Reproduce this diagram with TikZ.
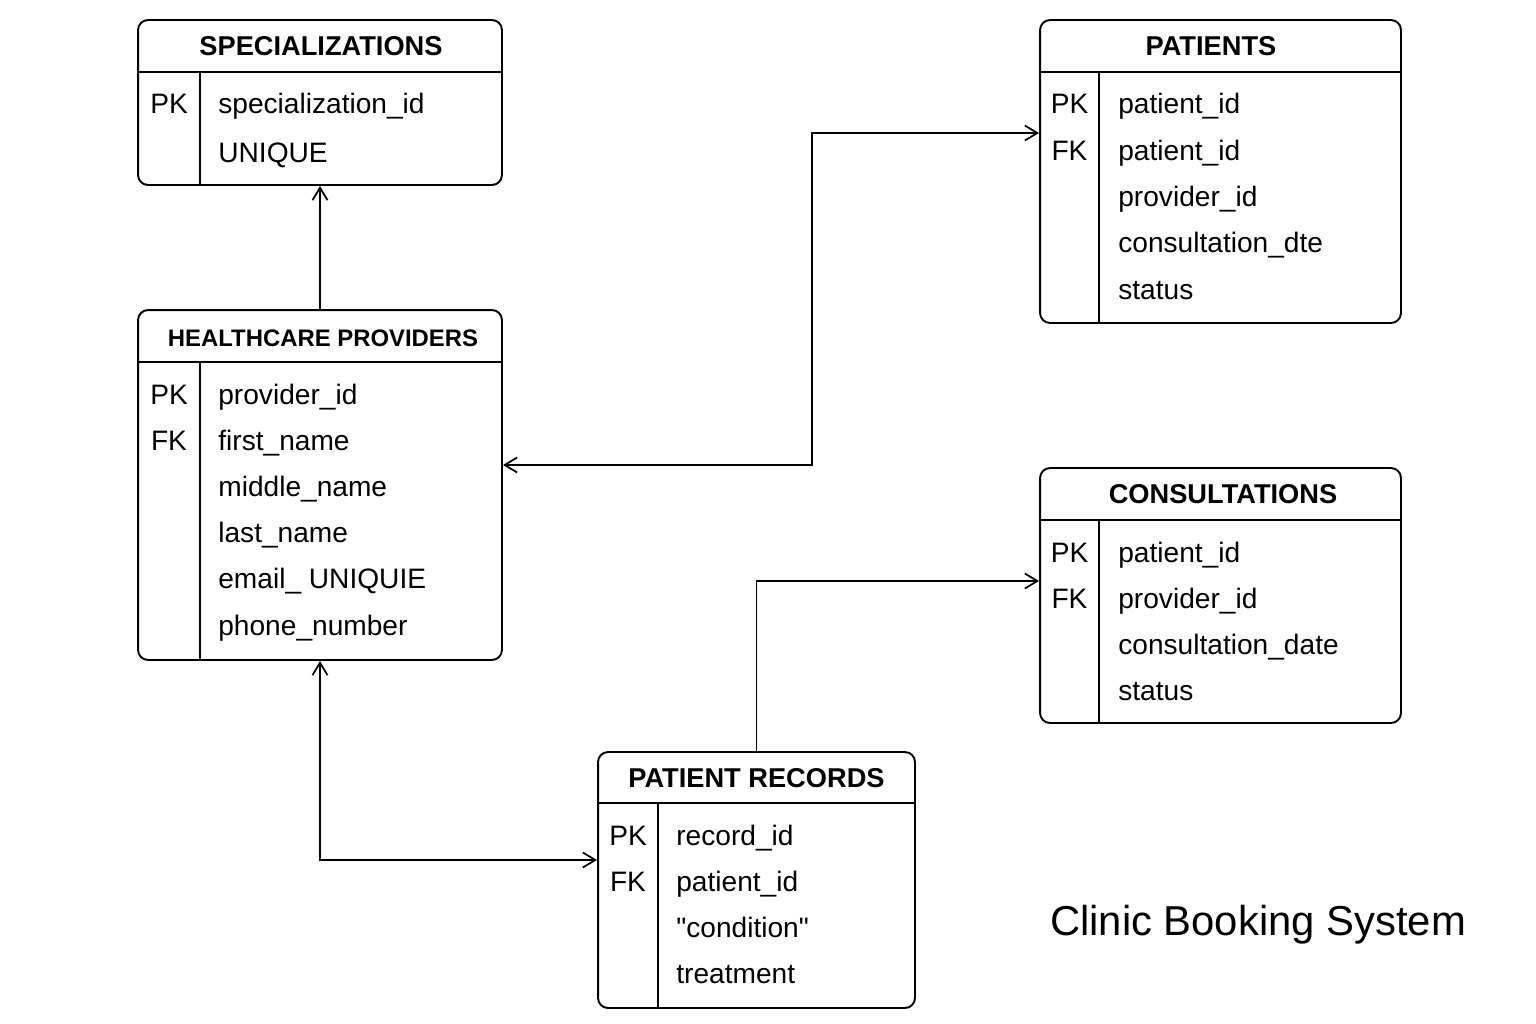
\documentclass[tikz,border=0pt]{standalone}
\usepackage{fontspec}
\setmainfont{Liberation Sans}
\usetikzlibrary{arrows.meta,positioning,calc}
\tikzset{
  tbl/.style={draw, rectangle, rounded corners=2mm, line width=1.1pt, inner sep=0pt},
  hdr/.style={font=\fontsize{15.5}{18}\selectfont\bfseries, inner sep=0pt, text height=11.1pt, text depth=0pt},
  key/.style={font=\fontsize{16}{19}\selectfont, inner sep=0pt, text height=11.5pt, text depth=0pt},
  fld/.style={key, anchor=west},
  sep/.style={line width=0.8pt},
  tip/.tip={Straight Barb[length=2.5mm, width=3mm]},
  arr/.style={-tip, line width=1pt},
  biarr/.style={tip-tip, line width=1pt}
}

\begin{document}
\begin{tikzpicture}[x=0.02cm, y=-0.02cm]
\useasboundingbox (0,0) rectangle (1536,1024);

% specializations
\node[tbl, minimum width=7.28cm, minimum height=3.3cm] (spec) at (320,102.5) {};
\node[hdr] (spec-h) at (321,46) {SPECIALIZATIONS};
\draw[sep] (138,72) -- (502,72);
\draw[sep] (200,72) -- (200,185);
\foreach \y/\k/\f in {103/PK/specialization\_id, 152//UNIQUE} {
  \node[key] (spec-k\y) at (169,\y) {\k};
  \node[fld] (spec-f\y) at (218,\y) {\f};
}

% healthcare providers
\node[tbl, minimum width=7.28cm, minimum height=7cm] (hp) at (320,485) {};
\node[hdr, font=\fontsize{13.6}{16}\selectfont\bfseries] (hp-h) at (323,337) {HEALTHCARE PROVIDERS};
\draw[sep] (138,362) -- (502,362);
\draw[sep] (200,362) -- (200,660);
\foreach \y/\k/\f in {394/PK/provider\_id, 440/FK/first\_name, 486//middle\_name,
    532//last\_name, 578//email\_ UNIQUIE, 625//phone\_number} {
  \node[key] (hp-k\y) at (169,\y) {\k};
  \node[fld] (hp-f\y) at (218,\y) {\f};
}

% patients
\node[tbl, minimum width=7.22cm, minimum height=6.06cm] (pat) at (1220.5,171.5) {};
\node[hdr] (pat-h) at (1211,46) {PATIENTS};
\draw[sep] (1040,72) -- (1401,72);
\draw[sep] (1099,72) -- (1099,323);
\foreach \y/\k/\f in {103/PK/patient\_id, 150/FK/patient\_id, 196//provider\_id,
    242//consultation\_dte, 289//status} {
  \node[key] (pat-k\y) at (1069.5,\y) {\k};
  \node[fld] (pat-f\y) at (1118,\y) {\f};
}

% consultations
\node[tbl, minimum width=7.22cm, minimum height=5.1cm] (cons) at (1220.5,595.5) {};
\node[hdr] (cons-h) at (1223,494) {CONSULTATIONS};
\draw[sep] (1040,520) -- (1401,520);
\draw[sep] (1099,520) -- (1099,723);
\foreach \y/\k/\f in {552/PK/patient\_id, 598/FK/provider\_id,
    644//consultation\_date, 690//status} {
  \node[key] (cons-k\y) at (1069.5,\y) {\k};
  \node[fld] (cons-f\y) at (1118,\y) {\f};
}

% patient records
\node[tbl, minimum width=6.34cm, minimum height=5.12cm] (rec) at (756.5,880) {};
\node[hdr] (rec-h) at (756.5,778) {PATIENT RECORDS};
\draw[sep] (598,803) -- (915,803);
\draw[sep] (658,803) -- (658,1008);
\foreach \y/\k/\f in {835/PK/record\_id, 881/FK/patient\_id,
    927//\textquotedbl condition\textquotedbl, 973//treatment} {
  \node[key] (rec-k\y) at (628,\y) {\k};
  \node[fld] (rec-f\y) at (676,\y) {\f};
}

\node[font=\fontsize{23.8}{28}\selectfont, inner sep=0pt] (title) at (1258,925) {Clinic Booking System};

% links
\coordinate (bendA) at (812,465);
\coordinate (bendB) at (812,133);
\coordinate (bendC) at (757,581);
\coordinate (bendD) at (320,860);
\draw[arr] (hp.north) -- (spec.south);
\draw[biarr] (hp.east |- bendA) -- (bendA) |- (pat.west |- bendB);
\draw[arr] (rec.north) |- (cons.west |- bendC);
\draw[biarr] (hp.south) |- (rec.west |- bendD);
\end{tikzpicture}
\end{document}
